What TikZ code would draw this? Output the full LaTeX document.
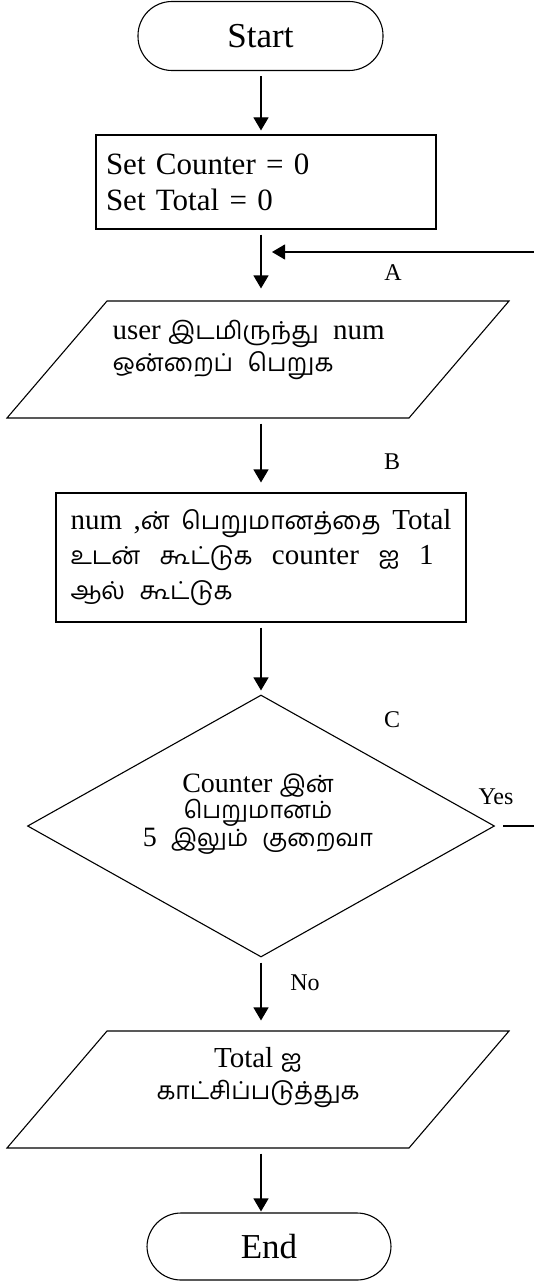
\documentclass[tikz,border=0pt]{standalone}
\usepackage{fontspec}
\setmainfont{Liberation Serif}
\newfontfamily\tamil[Script=Tamil,Scale=0.85]{Hind Madurai}
\usetikzlibrary{shapes.geometric,arrows.meta}

\begin{document}
\begin{tikzpicture}[x=1pt,y=-1pt,line width=1.1pt,
  term/.style={draw,rounded corners=34pt,minimum width=245pt,minimum height=69pt,font=\fontsize{35}{40}\selectfont},
  proc/.style={draw,rectangle,align=left,inner sep=0pt},
  io/.style={draw,rectangle,xslant=0.855,minimum width=402pt,minimum height=117pt,inner sep=0pt},
  dec/.style={draw,diamond,minimum width=467pt,minimum height=262pt,inner sep=0pt},
  txt/.style={inner sep=0pt,font=\fontsize{29}{32}\selectfont},
  lbl/.style={inner sep=0pt,font=\fontsize{24}{28}\selectfont},
  flow/.style={-{Triangle[width=15pt,length=13pt]},shorten <=5pt,shorten >=4pt}]
\useasboundingbox (0,0) rectangle (533,1281);
\coordinate (col) at (261,0);
\coordinate (side) at (570,0);
\coordinate (back) at (272,252);

\node[term] (start) at (260.5,36) {Start};
\node[proc,minimum width=340pt,minimum height=94pt,text width=320pt,font=\fontsize{31}{36}\selectfont] (init) at (266,182) {Set Counter = 0\\Set Total = 0};
\node[io] (get) at (258,359.5) {};
\node[txt,align=left,anchor=north west] (get-t) at (112,320) {user {\tamil இடமிருந்து}\ \ num\\{\tamil ஒன்றைப்}\ \ {\tamil பெறுக}};
\node[proc,minimum width=410pt,minimum height=129pt,font=\fontsize{29}{35}\selectfont] (add) at (261,557.5) {\makebox[381pt][s]{num ,{\tamil ன்} {\tamil பெறுமானத்தை} Total}\\\makebox[363pt][s]{{\tamil உடன்} {\tamil கூட்டுக} counter {\tamil ஐ} 1}\\{\tamil ஆல்}\ \ {\tamil கூட்டுக}};
\node[dec] (test) at (261,826) {};
\node[txt,align=center,font=\fontsize{28}{26.5}\selectfont] (test-t) at (258,814) {Counter {\tamil இன்}\\{\tamil பெறுமானம்}\\5\ \ {\tamil இலும்}\ \ {\tamil குறைவா}};
\node[io] (show) at (258,1089.5) {};
\node[txt,align=center] (show-t) at (258,1078) {Total {\tamil ஐ}\\{\tamil காட்சிப்படுத்துக}};
\node[term,minimum width=244pt,minimum height=67pt] (end) at (269,1246.5) {End};

\node[lbl] (la) at (393,273) {A};
\node[lbl] (lb) at (392,462) {B};
\node[lbl] (lc) at (392,720) {C};
\node[lbl] (lyes) at (496,797) {Yes};
\node[lbl] (lno) at (305,983) {No};

\draw[flow] (start.south -| col) -- (init.north -| col);
\draw[flow] (init.south -| col) -- ([yshift=8pt]get.north -| col);
\draw[flow] (get.south -| col) -- ([yshift=6pt]add.north -| col);
\draw[flow] (add.south -| col) -- (test.north);
\draw[flow] (test.south) -- ([yshift=6pt]show.north -| col);
\draw[flow,shorten >=1pt] (show.south -| col) -- (end.north -| col);
\draw[-{Triangle[width=15pt,length=13pt]},shorten <=8pt] (test.east) -- (test.east -| side) |- (back);
\end{tikzpicture}
\end{document}
